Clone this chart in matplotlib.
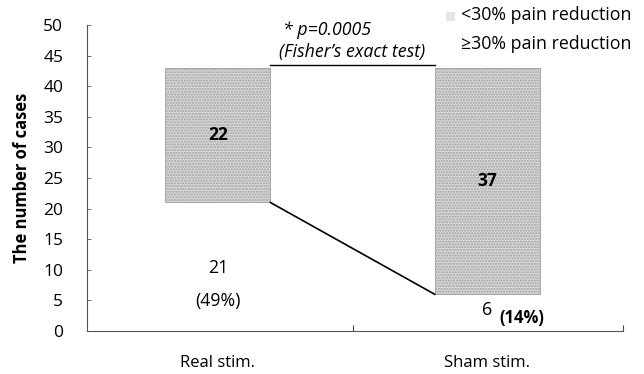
import matplotlib
matplotlib.use("Agg")
import matplotlib.pyplot as plt
from matplotlib.patches import Rectangle

plt.rcParams['font.family'] = ['Open Sans', 'DejaVu Sans']

# Data
groups = ["Real stim.", "Sham stim."]
responders = [21, 6]          # >=30% pain reduction
non_responders = [22, 37]     # <30% pain reduction
responder_pct = ["(49%)", "(14%)"]
y_ticks = [0, 5, 10, 15, 20, 25, 30, 35, 40, 45, 50]

fig = plt.figure(figsize=(6.44, 3.74), dpi=100)
ax = fig.add_axes([0.135, 0.115, 0.832, 0.818])

x = [0, 1]
width = 0.39
ax.bar(x, responders, width, color="white", edgecolor="none", zorder=2)
ax.bar(x, non_responders, width, bottom=responders, color="#d8d8d8",
       edgecolor="#a0a0a0", hatch="......", linewidth=0.6, zorder=2)

# Connecting line between responder segments
ax.plot([x[0] + width / 2, x[1] - width / 2], [responders[0], responders[1]],
        color="black", lw=1.2, zorder=3)

# Significance bracket
top = max(r + n for r, n in zip(responders, non_responders))
ax.plot([x[0] + width / 2, x[1] - width / 2], [top + 0.5, top + 0.5],
        color="black", lw=1.0, zorder=3)
ax.text(0.24, 49.2, "* p=0.0005", style="italic", fontsize=12.8,
        ha="left", va="center")
ax.text(0.5, 45.6, "(Fisher\u2019s exact test)", style="italic", fontsize=12.8,
        ha="center", va="center")

# Segment labels
ax.text(x[0], responders[0] + non_responders[0] / 2, str(non_responders[0]),
        ha="center", va="center", fontsize=12.5, fontweight="bold", zorder=4)
ax.text(x[1], responders[1] + non_responders[1] / 2, str(non_responders[1]),
        ha="center", va="center", fontsize=12.5, fontweight="bold", zorder=4)
ax.text(x[0], 10.3, str(responders[0]), ha="center", va="center", fontsize=12.8)
ax.text(x[0], 4.9, responder_pct[0], ha="center", va="center", fontsize=12.8)
ax.text(x[1] + 0.0, 3.4, str(responders[1]), ha="center", va="center", fontsize=12.8)
ax.text(x[1] + 0.13, 2.1, responder_pct[1], ha="center", va="center",
        fontsize=12, fontweight="bold")

# Axes styling
ax.set_xlim(-0.486, 1.503)
ax.set_ylim(0, 50)
ax.set_yticks(y_ticks)
ax.tick_params(axis="y", direction="in", length=3, width=0.6, pad=17,
               labelsize=12.5, color="#555555")
ax.set_xticks(x)
ax.set_xticklabels(groups, fontsize=12)
ax.tick_params(axis="x", length=0, pad=17)
ax.set_xticks([0.5, 1.503], minor=True)
ax.tick_params(axis="x", which="minor", direction="in", length=4, width=0.8,
               color="#444444")
for side in ("top", "right"):
    ax.spines[side].set_visible(False)
for side in ("left", "bottom"):
    ax.spines[side].set_color("#555555")
    ax.spines[side].set_linewidth(0.8)
ax.set_ylabel("The number of cases", fontsize=11.9, fontweight="bold", labelpad=9)

# Legend
fig.patches.append(Rectangle((0.692, 0.945), 0.014, 0.022, transform=fig.transFigure,
                             facecolor="#e6e6e6", edgecolor="none", hatch="....",
                             linewidth=0.3))
fig.text(0.716, 0.96, "<30% pain reduction", fontsize=12.8, ha="left", va="center")
fig.text(0.716, 0.882, "\u226530% pain reduction", fontsize=12.8, ha="left", va="center")

fig.savefig("out.png", dpi=100)
